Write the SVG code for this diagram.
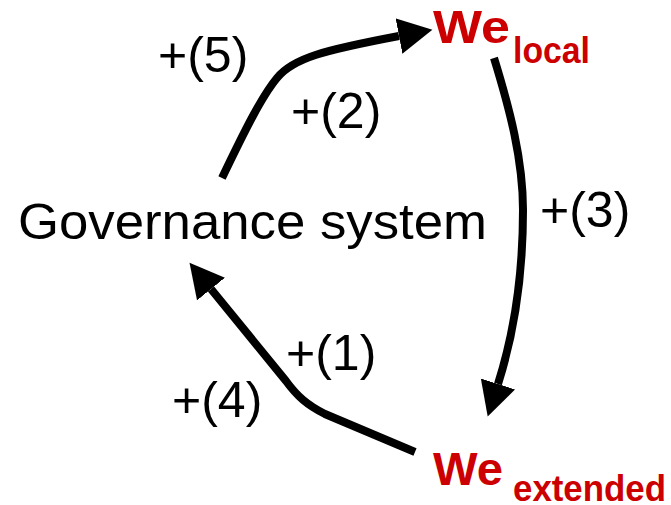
<svg xmlns="http://www.w3.org/2000/svg" width="671" height="505" viewBox="0 0 671 505">
  <defs>
    <style>
      .lbl { font-family: "Liberation Sans", Arial, sans-serif; font-size: 50px; fill: #000; }
      .we { font-family: "Liberation Sans", Arial, sans-serif; font-weight: bold; fill: #CC0000; }
      .edge { fill: none; stroke: #000; stroke-width: 8; }
    </style>
    <marker id="ah" markerUnits="userSpaceOnUse" markerWidth="40" markerHeight="40" refX="0" refY="18" orient="auto" viewBox="0 0 40 40">
      <path d="M0,0 L34,18 L0,36 z" fill="#000"/>
    </marker>
  </defs>
  <rect width="671" height="505" fill="#fff"/>
  <g id="connectors">
    <path class="edge" d="M222,178 C245,130 262,96 277,78 C293,58 325,50 399,36" marker-end="url(#ah)"/>
    <path class="edge" d="M494,58 C510,110 523,160 523,210 C523,280 512,340 498,384" marker-end="url(#ah)"/>
    <path class="edge" d="M415,452 L325,414 C307,405 297,396 286,381 L211,289" marker-end="url(#ah)"/>
  </g>
  <g id="governance">
    <text class="lbl" x="18" y="239" font-size="51" textLength="469" lengthAdjust="spacingAndGlyphs">Governance system</text>
  </g>
  <g id="we-local">
    <text class="we" x="433" y="43" font-size="47" textLength="77" lengthAdjust="spacingAndGlyphs">We</text>
    <text class="we" x="513" y="63" font-size="36" textLength="77" lengthAdjust="spacingAndGlyphs">local</text>
  </g>
  <g id="we-extended">
    <text class="we" x="433" y="485" font-size="47" textLength="70" lengthAdjust="spacingAndGlyphs">We</text>
    <text class="we" x="513" y="501" font-size="36" textLength="153" lengthAdjust="spacingAndGlyphs">extended</text>
  </g>
  <g id="labels">
    <text class="lbl" x="158" y="72">+(5)</text>
    <text class="lbl" x="291" y="128">+(2)</text>
    <text class="lbl" x="540" y="227">+(3)</text>
    <text class="lbl" x="286" y="370">+(1)</text>
    <text class="lbl" x="172" y="417">+(4)</text>
  </g>
</svg>
